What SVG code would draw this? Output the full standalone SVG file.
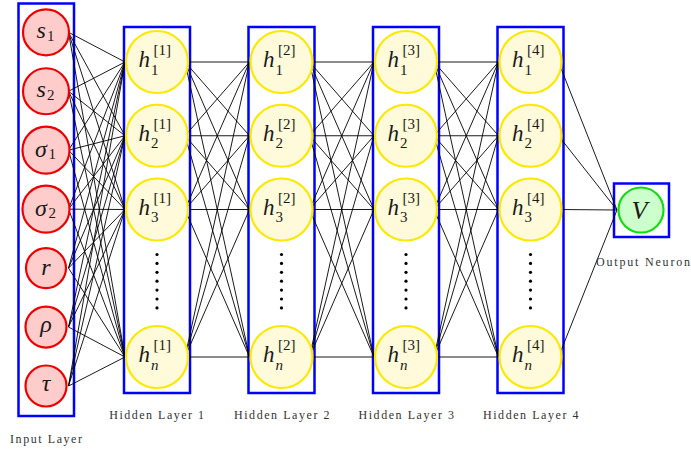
<svg xmlns="http://www.w3.org/2000/svg" xmlns:xlink="http://www.w3.org/1999/xlink" width="691" height="450" viewBox="0 0 691 450" font-family="'Liberation Serif', 'DejaVu Serif', serif">
<style>
.box{fill:none;stroke:#0000ff;stroke-width:2.5}
.in{fill:#ffcccc;stroke:#ee0000;stroke-width:2.2}
.hid{fill:#fffad9;stroke:#fce903;stroke-width:2.2}
.out{fill:#ccffcc;stroke:#11dd11;stroke-width:2.2}
.con{fill:none;stroke:#000;stroke-width:0.9}
text{font-family:'Liberation Serif','DejaVu Serif',serif;fill:#1a1a1a}
.m{font-style:italic}
.h{font-size:23px}
.hs{font-size:15px}
.im{font-size:24px}
.is{font-size:15px}
.lbl{font-size:12px;fill:#333}
.dot{fill:#000}
</style>
<defs>
<g id="dots">
<circle class="dot" cx="0" cy="254.5" r="1.6"/>
<circle class="dot" cx="0" cy="263.4" r="1.6"/>
<circle class="dot" cx="0" cy="272.3" r="1.6"/>
<circle class="dot" cx="0" cy="281.2" r="1.6"/>
<circle class="dot" cx="0" cy="290.1" r="1.6"/>
<circle class="dot" cx="0" cy="299" r="1.6"/>
<circle class="dot" cx="0" cy="307.9" r="1.6"/>
</g>
</defs>
<rect width="691" height="450" fill="#fff"/>

<g id="layer-boxes">
<rect class="box" x="18.5" y="3.5" width="55.5" height="412.5"/>
<rect class="box" x="124" y="27" width="66" height="366"/>
<rect class="box" x="248.5" y="27" width="66" height="366"/>
<rect class="box" x="373" y="27" width="66" height="366"/>
<rect class="box" x="497.5" y="27" width="66" height="366"/>
<rect class="box" x="614" y="183.5" width="55" height="53.5"/>
</g>

<g id="connectors">
<path class="con" d="M68.5 32.3L125 62M68.5 32.3L125 135.75M68.5 32.3L125 209.5M68.5 32.3L125 357
M68.5 91.25L125 62M68.5 91.25L125 135.75M68.5 91.25L125 209.5M68.5 91.25L125 357
M68.5 150.2L125 62M68.5 150.2L125 135.75M68.5 150.2L125 209.5M68.5 150.2L125 357
M68.5 209.15L125 62M68.5 209.15L125 135.75M68.5 209.15L125 209.5M68.5 209.15L125 357
M68.5 268.1L125 62M68.5 268.1L125 135.75M68.5 268.1L125 209.5M68.5 268.1L125 357
M68.5 327.05L125 62M68.5 327.05L125 135.75M68.5 327.05L125 209.5M68.5 327.05L125 357
M68.5 386L125 62M68.5 386L125 135.75M68.5 386L125 209.5M68.5 386L125 357"/>
<path class="con" d="M185 62L249.5 62M185 62L249.5 135.75M185 62L249.5 209.5M185 62L249.5 357
M185 135.75L249.5 62M185 135.75L249.5 135.75M185 135.75L249.5 209.5M185 135.75L249.5 357
M185 209.5L249.5 62M185 209.5L249.5 135.75M185 209.5L249.5 209.5M185 209.5L249.5 357
M185 357L249.5 62M185 357L249.5 135.75M185 357L249.5 209.5M185 357L249.5 357"/>
<path class="con" d="M309.5 62L374 62M309.5 62L374 135.75M309.5 62L374 209.5M309.5 62L374 357
M309.5 135.75L374 62M309.5 135.75L374 135.75M309.5 135.75L374 209.5M309.5 135.75L374 357
M309.5 209.5L374 62M309.5 209.5L374 135.75M309.5 209.5L374 209.5M309.5 209.5L374 357
M309.5 357L374 62M309.5 357L374 135.75M309.5 357L374 209.5M309.5 357L374 357"/>
<path class="con" d="M434 62L498.5 62M434 62L498.5 135.75M434 62L498.5 209.5M434 62L498.5 357
M434 135.75L498.5 62M434 135.75L498.5 135.75M434 135.75L498.5 209.5M434 135.75L498.5 357
M434 209.5L498.5 62M434 209.5L498.5 135.75M434 209.5L498.5 209.5M434 209.5L498.5 357
M434 357L498.5 62M434 357L498.5 135.75M434 357L498.5 209.5M434 357L498.5 357"/>
<path class="con" d="M558.5 62L617 210M558.5 135.75L617 210M558.5 209.5L617 210M558.5 357L617 210"/>
</g>

<g id="in-s1"><circle class="in" cx="46" cy="32.3" r="23"/><text class="m im" x="36.5" y="37.5">s</text><text class="is" x="47" y="40.5">1</text></g>
<g id="in-s2"><circle class="in" cx="46" cy="91.25" r="23"/><text class="m im" x="36.5" y="96.5">s</text><text class="is" x="47" y="99.5">2</text></g>
<g id="in-sigma1"><circle class="in" cx="46" cy="150.2" r="23.5"/><text class="m im" x="35" y="156.5">σ</text><text class="is" x="48.5" y="159">1</text></g>
<g id="in-sigma2"><circle class="in" cx="46" cy="209.15" r="23.5"/><text class="m im" x="35" y="215.5">σ</text><text class="is" x="48.5" y="218">2</text></g>
<g id="in-r"><circle class="in" cx="46" cy="268.1" r="20"/><text class="m im" x="46" y="274.5" text-anchor="middle">r</text></g>
<g id="in-rho"><circle class="in" cx="46" cy="327.05" r="20.5"/><text class="m im" x="46" y="332" text-anchor="middle">ρ</text></g>
<g id="in-tau"><circle class="in" cx="46" cy="386" r="20.5"/><text class="m im" x="46" y="391" text-anchor="middle">τ</text></g>

<g id="h1-1"><circle class="hid" cx="157" cy="62" r="31"/><text class="m h" x="138.5" y="67">h</text><text class="hs" x="151" y="74.5">1</text><text class="hs" x="153.5" y="55">[1]</text></g>
<g id="h1-2"><circle class="hid" cx="157" cy="135.75" r="31"/><text class="m h" x="138.5" y="140.75">h</text><text class="hs" x="151" y="148.25">2</text><text class="hs" x="153.5" y="128.75">[1]</text></g>
<g id="h1-3"><circle class="hid" cx="157" cy="209.5" r="31"/><text class="m h" x="138.5" y="214.5">h</text><text class="hs" x="151" y="222">3</text><text class="hs" x="153.5" y="202.5">[1]</text></g>
<use xlink:href="#dots" x="157"/>
<g id="h1-n"><circle class="hid" cx="157" cy="357" r="31"/><text class="m h" x="138.5" y="362">h</text><text class="m hs" x="151" y="369.5">n</text><text class="hs" x="153.5" y="350">[1]</text></g>

<g id="h2-1"><circle class="hid" cx="281.5" cy="62" r="31"/><text class="m h" x="263" y="67">h</text><text class="hs" x="275.5" y="74.5">1</text><text class="hs" x="278" y="55">[2]</text></g>
<g id="h2-2"><circle class="hid" cx="281.5" cy="135.75" r="31"/><text class="m h" x="263" y="140.75">h</text><text class="hs" x="275.5" y="148.25">2</text><text class="hs" x="278" y="128.75">[2]</text></g>
<g id="h2-3"><circle class="hid" cx="281.5" cy="209.5" r="31"/><text class="m h" x="263" y="214.5">h</text><text class="hs" x="275.5" y="222">3</text><text class="hs" x="278" y="202.5">[2]</text></g>
<use xlink:href="#dots" x="281.5"/>
<g id="h2-n"><circle class="hid" cx="281.5" cy="357" r="31"/><text class="m h" x="263" y="362">h</text><text class="m hs" x="275.5" y="369.5">n</text><text class="hs" x="278" y="350">[2]</text></g>

<g id="h3-1"><circle class="hid" cx="406" cy="62" r="31"/><text class="m h" x="387.5" y="67">h</text><text class="hs" x="400" y="74.5">1</text><text class="hs" x="402.5" y="55">[3]</text></g>
<g id="h3-2"><circle class="hid" cx="406" cy="135.75" r="31"/><text class="m h" x="387.5" y="140.75">h</text><text class="hs" x="400" y="148.25">2</text><text class="hs" x="402.5" y="128.75">[3]</text></g>
<g id="h3-3"><circle class="hid" cx="406" cy="209.5" r="31"/><text class="m h" x="387.5" y="214.5">h</text><text class="hs" x="400" y="222">3</text><text class="hs" x="402.5" y="202.5">[3]</text></g>
<use xlink:href="#dots" x="406"/>
<g id="h3-n"><circle class="hid" cx="406" cy="357" r="31"/><text class="m h" x="387.5" y="362">h</text><text class="m hs" x="400" y="369.5">n</text><text class="hs" x="402.5" y="350">[3]</text></g>

<g id="h4-1"><circle class="hid" cx="530.5" cy="62" r="31"/><text class="m h" x="512" y="67">h</text><text class="hs" x="524.5" y="74.5">1</text><text class="hs" x="527" y="55">[4]</text></g>
<g id="h4-2"><circle class="hid" cx="530.5" cy="135.75" r="31"/><text class="m h" x="512" y="140.75">h</text><text class="hs" x="524.5" y="148.25">2</text><text class="hs" x="527" y="128.75">[4]</text></g>
<g id="h4-3"><circle class="hid" cx="530.5" cy="209.5" r="31"/><text class="m h" x="512" y="214.5">h</text><text class="hs" x="524.5" y="222">3</text><text class="hs" x="527" y="202.5">[4]</text></g>
<use xlink:href="#dots" x="530.5"/>
<g id="h4-n"><circle class="hid" cx="530.5" cy="357" r="31"/><text class="m h" x="512" y="362">h</text><text class="m hs" x="524.5" y="369.5">n</text><text class="hs" x="527" y="350">[4]</text></g>

<g id="out-V"><circle class="out" cx="641" cy="210" r="22.5"/><text class="m" x="639.5" y="219" font-size="26" text-anchor="middle">V</text></g>

<g id="labels">
<text class="lbl" x="10" y="442.5" textLength="72" lengthAdjust="spacing">Input Layer</text>
<text class="lbl" x="109.3" y="419.3" textLength="94.7" lengthAdjust="spacing">Hidden Layer 1</text>
<text class="lbl" x="234" y="419.3" textLength="95.5" lengthAdjust="spacing">Hidden Layer 2</text>
<text class="lbl" x="358.5" y="419.3" textLength="95.5" lengthAdjust="spacing">Hidden Layer 3</text>
<text class="lbl" x="483" y="419.3" textLength="95.5" lengthAdjust="spacing">Hidden Layer 4</text>
<text class="lbl" x="596" y="265.5" textLength="94" lengthAdjust="spacing">Output Neuron</text>
</g>
</svg>
